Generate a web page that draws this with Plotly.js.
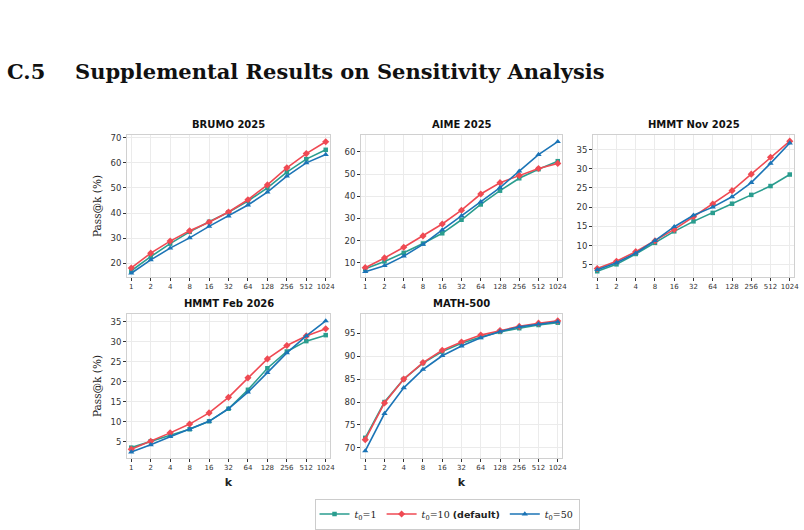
<!DOCTYPE html>
<html>
<head>
<meta charset="utf-8">
<script src="https://cdn.plot.ly/plotly-3.0.1.min.js"></script>
<style>
  html, body { margin: 0; padding: 0; background: #ffffff; }
  #chart { width: 804px; height: 530px; }
</style>
</head>
<body>
<div id="chart"></div>
<script>
// Sampling budgets k on the x axis (log2 spaced)
const kValues = [1, 2, 4, 8, 16, 32, 64, 128, 256, 512, 1024];
const kLabels = ['1', '2', '4', '8', '16', '32', '64', '128', '256', '512', '1024'];

const panelTitles = ['BRUMO 2025', 'AIME 2025', 'HMMT Nov 2025', 'HMMT Feb 2026', 'MATH-500'];
const seriesNames = [
  '<i>t</i><sub>0</sub>=1',
  '<i>t</i><sub>0</sub>=10 <span style="font-family:\'DejaVu Sans\'"><b>(default)</b></span>',
  '<i>t</i><sub>0</sub>=50'
];

// Pass@k (%) for each benchmark and t0 setting
const brumoT1  = [17.0, 22.6, 27.8, 32.5, 36.5, 40.3, 44.8, 50.0, 56.3, 61.5, 65.2];
const brumoT10 = [18.1, 24.0, 28.8, 32.9, 36.3, 40.4, 45.3, 51.2, 58.0, 63.7, 68.4];
const brumoT50 = [16.0, 21.3, 26.0, 30.1, 34.7, 38.8, 43.2, 48.3, 54.7, 60.0, 63.3];

const aimeT1  = [7.3, 10.6, 14.5, 18.7, 23.3, 29.4, 36.3, 42.5, 48.1, 52.2, 55.8];
const aimeT10 = [7.8, 12.2, 17.0, 22.1, 27.5, 33.7, 41.0, 46.1, 49.4, 52.5, 54.8];
const aimeT50 = [6.0, 8.7, 13.0, 18.3, 24.8, 31.2, 37.5, 43.9, 51.3, 58.8, 64.6];

const hmmtNovT1  = [3.3, 5.1, 7.8, 10.7, 13.7, 16.3, 18.5, 20.9, 23.2, 25.5, 28.5];
const hmmtNovT10 = [4.0, 5.9, 8.4, 11.2, 14.2, 17.5, 20.8, 24.3, 28.6, 33.0, 37.2];
const hmmtNovT50 = [3.7, 5.5, 8.0, 11.3, 14.9, 17.9, 20.0, 22.7, 26.4, 31.4, 36.7];

const hmmtFebT1  = [3.5, 5.1, 6.6, 8.1, 10.1, 13.25, 18.0, 23.4, 27.6, 30.2, 31.7];
const hmmtFebT10 = [3.1, 5.1, 7.2, 9.4, 12.2, 16.1, 21.0, 25.75, 29.1, 31.5, 33.3];
const hmmtFebT50 = [2.4, 4.2, 6.25, 8.1, 10.1, 13.25, 17.4, 22.3, 27.25, 31.5, 35.25];

const mathT1  = [72.2, 80.0, 85.0, 88.5, 91.0, 92.8, 94.2, 95.3, 96.1, 96.8, 97.3];
const mathT10 = [71.8, 79.8, 85.0, 88.6, 91.3, 93.1, 94.6, 95.6, 96.5, 97.2, 97.7];
const mathT50 = [69.35, 77.5, 83.1, 87.1, 90.1, 92.2, 94.0, 95.4, 96.4, 97.0, 97.5];

const panelSeries = [
  [brumoT1, brumoT10, brumoT50],
  [aimeT1, aimeT10, aimeT50],
  [hmmtNovT1, hmmtNovT10, hmmtNovT50],
  [hmmtFebT1, hmmtFebT10, hmmtFebT50],
  [mathT1, mathT10, mathT50]
];

// ---- styling ----
const W = 804, H = 530;
const colors = ['#2a9d8f', '#ef4a53', '#1b74b6'];
const symbols = ['square', 'diamond', 'triangle-up'];
const markerSizes = [4.5, 5.5, 5.5];

// panel boxes in pixels: [left, right, top, bottom]
const boxes = [
  [127, 330, 135, 277],
  [361, 562, 135, 277],
  [593, 794, 135, 277],
  [127, 330, 314, 458],
  [361, 562, 314, 458]
];
const yRanges = [[14.5, 71.1], [3.6, 67.6], [1.8, 38.8], [0.9, 37.0], [67.8, 99.2]];
const yTicks = [
  [20, 30, 40, 50, 60, 70],
  [10, 20, 30, 40, 50, 60],
  [5, 10, 15, 20, 25, 30, 35],
  [5, 10, 15, 20, 25, 30, 35],
  [70, 75, 80, 85, 90, 95]
];

const px = x => x / W;
const py = y => 1 - y / H;
const log2 = Math.log10(2);

const traces = [];
const layout = {
  width: W, height: H,
  margin: {l: 0, r: 0, t: 0, b: 0},
  paper_bgcolor: '#ffffff',
  plot_bgcolor: '#ffffff',
  showlegend: true,
  font: {family: 'DejaVu Sans, sans-serif', color: '#333333'},
  legend: {
    orientation: 'h',
    x: 0.556, y: py(514), xanchor: 'center', yanchor: 'middle',
    bgcolor: '#ffffff', bordercolor: '#cccccc', borderwidth: 1,
    font: {family: 'DejaVu Serif, serif', size: 9.5, color: '#222222'},
    itemwidth: 30, tracegroupgap: 0
  },
  annotations: [],
  shapes: []
};

panelSeries.forEach((series, p) => {
  const n = p + 1;
  const xa = 'xaxis' + (n === 1 ? '' : n);
  const ya = 'yaxis' + (n === 1 ? '' : n);
  const [l, r, t, b] = boxes[p];

  series.forEach((vals, s) => {
    traces.push({
      type: 'scatter', mode: 'lines+markers',
      x: kValues, y: vals,
      xaxis: 'x' + (n === 1 ? '' : n), yaxis: 'y' + (n === 1 ? '' : n),
      name: seriesNames[s], legendgroup: 'g' + s,
      showlegend: p === 0,
      line: {color: colors[s], width: 1.6},
      marker: {color: colors[s], symbol: symbols[s], size: markerSizes[s]},
      hoverinfo: 'skip'
    });
  });

  layout[xa] = {
    type: 'log',
    domain: [px(l), px(r)],
    anchor: 'y' + (n === 1 ? '' : n),
    range: [-0.22 * log2, 10.22 * log2],
    tickvals: kValues, ticktext: kLabels,
    tickfont: {size: 7, color: '#333333'},
    ticks: 'outside', ticklen: 3, tickwidth: 1, tickcolor: '#333333',
    showgrid: true, gridcolor: '#ebebeb', gridwidth: 1,
    showline: true, linecolor: '#d0d0d0', linewidth: 1, mirror: true,
    zeroline: false, automargin: false, fixedrange: true
  };
  layout[ya] = {
    domain: [py(b), py(t)],
    anchor: 'x' + (n === 1 ? '' : n),
    range: yRanges[p],
    tickvals: yTicks[p],
    tickfont: {size: 8.5, color: '#333333'},
    ticks: 'outside', ticklen: 3, tickwidth: 1, tickcolor: '#333333',
    showgrid: true, gridcolor: '#ebebeb', gridwidth: 1,
    showline: true, linecolor: '#d0d0d0', linewidth: 1, mirror: true,
    zeroline: false, automargin: false, fixedrange: true
  };
  if (p === 0 || p === 3) {
    layout[ya].title = {
      text: 'Pass@k (%)',
      font: {family: 'DejaVu Serif, serif', size: 10.5, color: '#222222'},
      standoff: 6
    };
  }
  if (p >= 3) {
    layout[xa].title = {
      text: '<b>k</b>',
      font: {family: 'DejaVu Sans, sans-serif', size: 11, color: '#222222'},
      standoff: 6
    };
  }

  layout.annotations.push({
    text: '<b>' + panelTitles[p] + '</b>',
    xref: 'paper', yref: 'paper',
    x: px((l + r) / 2), y: py(t - 3),
    xanchor: 'center', yanchor: 'bottom', showarrow: false,
    font: {family: 'DejaVu Sans, sans-serif', size: 10, color: '#111111'}
  });
});

// section heading
layout.annotations.push({
  text: '<b>C.5</b>', xref: 'paper', yref: 'paper',
  x: px(5), y: py(72), xanchor: 'left', yanchor: 'middle', showarrow: false,
  font: {family: 'DejaVu Serif, serif', size: 21, color: '#111111'}
});
layout.annotations.push({
  text: '<b>Supplemental Results on Sensitivity Analysis</b>', xref: 'paper', yref: 'paper',
  x: px(73), y: py(72), xanchor: 'left', yanchor: 'middle', showarrow: false,
  font: {family: 'DejaVu Serif, serif', size: 21, color: '#111111'}
});

Plotly.newPlot('chart', traces, layout, {displayModeBar: false, staticPlot: true});
</script>
</body>
</html>
